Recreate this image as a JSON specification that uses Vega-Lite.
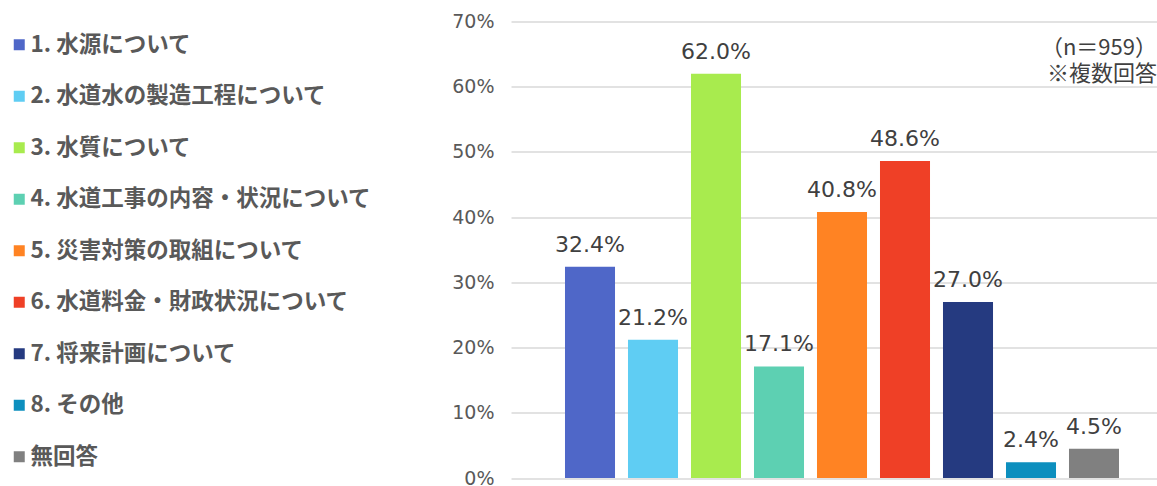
{
  "$schema": "https://vega.github.io/schema/vega-lite/v6.json",
  "autosize": {"type": "none"},
  "padding": {"left": 511, "top": 21.5, "right": 0, "bottom": 8},
  "width": 646,
  "height": 456.5,
  "background": "white",
  "view": {"stroke": null},
  "title": {
    "text": ["（n＝959）", "※複数回答"],
    "orient": "top",
    "anchor": "end",
    "frame": "group",
    "align": "right",
    "offset": -73,
    "font": "Noto Sans CJK JP",
    "fontSize": 22,
    "fontWeight": "normal",
    "color": "#404040",
    "lineHeight": 26
  },
  "data": {
    "values": [
      {"item": "1. 水源について", "value": 0.324},
      {"item": "2. 水道水の製造工程について", "value": 0.212},
      {"item": "3. 水質について", "value": 0.620},
      {"item": "4. 水道工事の内容・状況について", "value": 0.171},
      {"item": "5. 災害対策の取組について", "value": 0.408},
      {"item": "6. 水道料金・財政状況について", "value": 0.486},
      {"item": "7. 将来計画について", "value": 0.270},
      {"item": "8. その他", "value": 0.024},
      {"item": "無回答", "value": 0.045}
    ]
  },
  "encoding": {
    "x": {
      "field": "item",
      "type": "nominal",
      "sort": null,
      "axis": null,
      "scale": {"paddingInner": 0.206, "paddingOuter": 0.73, "align": 0.587}
    },
    "y": {
      "field": "value",
      "type": "quantitative",
      "scale": {"domain": [0, 0.7], "nice": false},
      "axis": {
        "title": null,
        "values": [0, 0.1, 0.2, 0.3, 0.4, 0.5, 0.6, 0.7],
        "format": ".0%",
        "domain": false,
        "ticks": false,
        "labelPadding": 17,
        "labelFont": "DejaVu Sans",
        "labelFontSize": 19,
        "labelColor": "#595959",
        "gridColor": "#d9d9d9",
        "gridWidth": 1.5
      }
    }
  },
  "layer": [
    {
      "mark": {"type": "bar"},
      "encoding": {
        "color": {
          "field": "item",
          "type": "nominal",
          "sort": null,
          "scale": {
            "range": ["#4F67C8", "#5FCDF3", "#A8EB4E", "#5DD0B2", "#FF8323", "#EF4026", "#253A80", "#0D8FBE", "#808080"]
          },
          "legend": {
            "title": null,
            "orient": "none",
            "legendX": -503,
            "legendY": 12,
            "padding": 0,
            "symbolType": "square",
            "symbolSize": 121,
            "symbolStrokeWidth": 0,
            "labelOffset": 0,
            "labelFont": "Noto Sans CJK JP",
            "labelFontSize": 22.5,
            "labelFontWeight": "bold",
            "labelColor": "#595959",
            "labelLimit": 500,
            "rowPadding": 28.5
          }
        }
      }
    },
    {
      "mark": {"type": "text", "baseline": "alphabetic", "dy": -15, "font": "DejaVu Sans", "fontSize": 22, "color": "#404040"},
      "encoding": {
        "text": {"field": "value", "type": "quantitative", "format": ".1%"}
      }
    }
  ]
}
